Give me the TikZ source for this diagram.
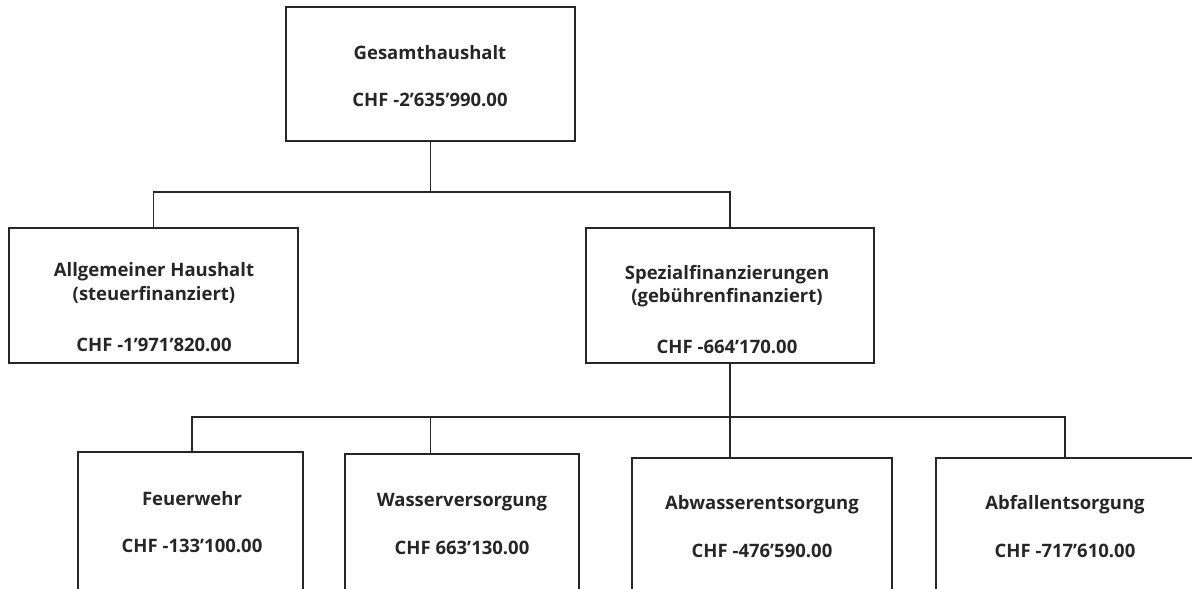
\documentclass[tikz,border=0pt]{standalone}
\usepackage{fontspec}
\setmainfont{Open Sans}
\usetikzlibrary{calc}
\tikzset{
  box/.style={draw=black!85, line width=1.6pt, rectangle, inner sep=0pt},
  conn/.style={draw=black!85, line width=1.6pt},
  lbl/.style={anchor=base, inner sep=0pt, font=\bfseries\fontsize{18.5}{22}\selectfont, text=black!85}
}
\begin{document}
\begin{tikzpicture}[x=1pt,y=-1pt]
\useasboundingbox (0,0) rectangle (1192,589);
\clip (0,0) rectangle (1192,589);
% boxes
\node[box, minimum width=289pt, minimum height=134pt] (top) at (430.5,74) {};
\node[box, minimum width=289pt, minimum height=135pt] (allg) at (153.5,295.5) {};
\node[box, minimum width=288pt, minimum height=135pt] (spez) at (730,295.5) {};
\node[box, minimum width=225pt, minimum height=200pt] (feu) at (190.5,552) {};
\node[box, minimum width=234pt, minimum height=200pt] (was) at (462,554) {};
\node[box, minimum width=260pt, minimum height=200pt] (abw) at (762,558) {};
\node[box, minimum width=260pt, minimum height=200pt] (abf) at (1066,558) {};
% texts
\node[lbl] (t1) at (430,59) {Gesamthaushalt};
\node[lbl] (t2) at (430,106) {CHF -2’635’990.00};
\node[lbl] (a1) at (154,276) {Allgemeiner Haushalt};
\node[lbl] (a2) at (154,300) {(steuerfinanziert)};
\node[lbl] (a3) at (154,351) {CHF -1’971’820.00};
\node[lbl] (s1) at (727,279) {Spezialfinanzierungen};
\node[lbl] (s2) at (727,302) {(gebührenfinanziert)};
\node[lbl] (s3) at (727,353) {CHF -664’170.00};
\node[lbl] (f1) at (192,505) {Feuerwehr};
\node[lbl] (f2) at (192,552) {CHF -133’100.00};
\node[lbl] (w1) at (462,506) {Wasserversorgung};
\node[lbl] (w2) at (462,554) {CHF 663’130.00};
\node[lbl] (b1) at (762,509) {Abwasserentsorgung};
\node[lbl] (b2) at (762,557) {CHF -476’590.00};
\node[lbl] (c1) at (1065,509) {Abfallentsorgung};
\node[lbl] (c2) at (1065,557) {CHF -717’610.00};
% connectors
\coordinate (j1) at (top.south |- 0,192);
\draw[conn] (top.south) -- (j1);
\draw[conn] (allg.north) |- (j1) -| (spez.north);
\coordinate (j2) at (spez.south |- 0,417);
\draw[conn] (spez.south) -- (abw.north -| spez.south);
\draw[conn] (feu.north -| 192,0) |- (j2) -| (abf.north -| 1065,0);
\draw[conn] (j1 |- j2) -- (was.north -| j1);
\end{tikzpicture}
\end{document}
